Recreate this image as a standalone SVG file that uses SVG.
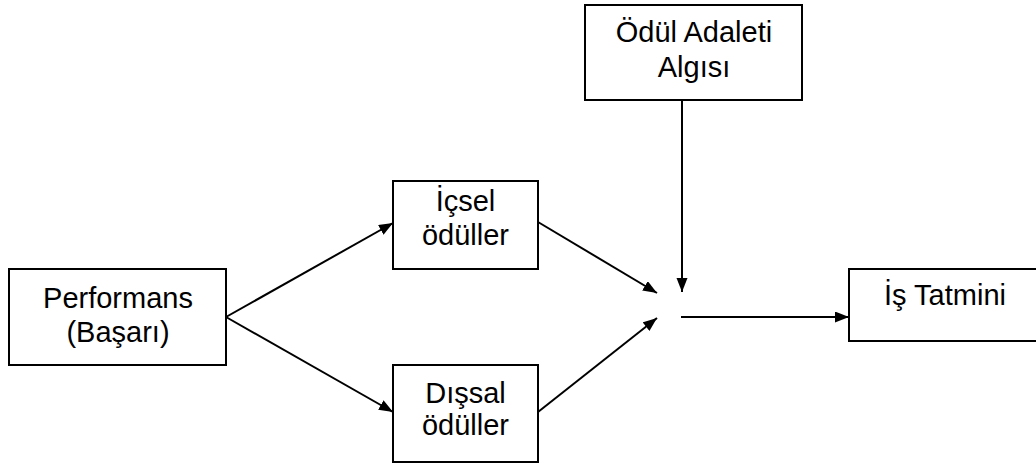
<svg xmlns="http://www.w3.org/2000/svg" width="1036" height="465" viewBox="0 0 1036 465">
  <style>
    .box { fill: #ffffff; stroke: #000000; stroke-width: 2; }
    .label { font-family: "Liberation Sans", Arial, sans-serif; font-size: 29px; fill: #000000; text-anchor: middle; }
    .link { fill: none; stroke: #000000; stroke-width: 2; marker-end: url(#arrow); }
  </style>
  <defs>
    <marker id="arrow" markerUnits="userSpaceOnUse" markerWidth="15" markerHeight="12" refX="14" refY="5.5" orient="auto">
      <path d="M0,0 L14,5.5 L0,11 z" fill="#000000"/>
    </marker>
  </defs>

  <rect width="1036" height="465" fill="#ffffff"/>

  <g id="performans">
    <rect class="box" x="9" y="269" width="217" height="96"/>
    <text class="label" x="118" y="308">Performans</text>
    <text class="label" x="118" y="342">(Başarı)</text>
  </g>

  <g id="icsel-oduller">
    <rect class="box" x="393" y="181" width="145" height="88"/>
    <text class="label" x="465.5" y="211">İçsel</text>
    <text class="label" x="465.5" y="245">ödüller</text>
  </g>

  <g id="dissal-oduller">
    <rect class="box" x="393" y="365" width="145" height="97"/>
    <text class="label" x="465.5" y="403">Dışsal</text>
    <text class="label" x="465.5" y="435">ödüller</text>
  </g>

  <g id="odul-adaleti-algisi">
    <rect class="box" x="585" y="5" width="217" height="95"/>
    <text class="label" x="694" y="42">Ödül Adaleti</text>
    <text class="label" x="694" y="77">Algısı</text>
  </g>

  <g id="is-tatmini">
    <rect class="box" x="849" y="269" width="200" height="72"/>
    <text class="label" x="945" y="305">İş Tatmini</text>
  </g>

  <g id="connectors">
    <line class="link" x1="226" y1="317" x2="393" y2="223"/>
    <line class="link" x1="226" y1="317" x2="393" y2="412"/>
    <line class="link" x1="538" y1="222" x2="657" y2="293"/>
    <line class="link" x1="538" y1="412" x2="657" y2="318"/>
    <line class="link" x1="682" y1="100" x2="682" y2="292"/>
    <line class="link" x1="681" y1="317" x2="849" y2="317"/>
  </g>
</svg>
